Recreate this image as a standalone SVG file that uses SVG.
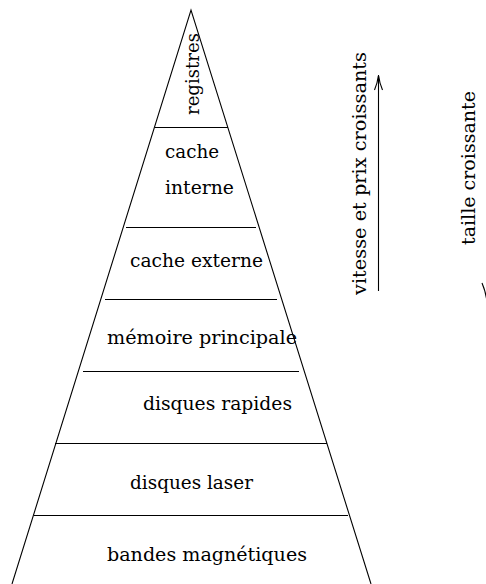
<svg xmlns="http://www.w3.org/2000/svg" width="486" height="584" viewBox="0 0 486 584">
  <style>
    .edge { fill: none; stroke: #000; stroke-width: 1.1; }
    .lbl { font-family: "DejaVu Serif", "Liberation Serif", serif; font-size: 19px; fill: #000; }
  </style>
  <rect width="486" height="584" fill="#fff"/>

  <!-- pyramid outline and level separators -->
  <g id="pyramid">
    <path class="edge" d="M12,584 L191,10 L371,584"/>
    <path class="edge" d="M155,127.5 H228 M126,227.5 H256 M105,299.5 H277 M83,371.5 H299 M55,443.5 H327 M34,515.5 H348"/>
  </g>

  <!-- memory levels -->
  <g id="registres">
    <text class="lbl" transform="translate(199,115) rotate(-90)" textLength="82" lengthAdjust="spacingAndGlyphs">registres</text>
  </g>
  <g id="cache-interne">
    <text class="lbl" x="165" y="158" textLength="54" lengthAdjust="spacingAndGlyphs">cache</text>
    <text class="lbl" x="165" y="194" textLength="69" lengthAdjust="spacingAndGlyphs">interne</text>
  </g>
  <g id="cache-externe">
    <text class="lbl" x="130" y="267" textLength="133" lengthAdjust="spacingAndGlyphs">cache externe</text>
  </g>
  <g id="memoire-principale">
    <text class="lbl" x="107" y="344" textLength="190" lengthAdjust="spacingAndGlyphs">mémoire principale</text>
  </g>
  <g id="disques-rapides">
    <text class="lbl" x="143" y="410" textLength="149" lengthAdjust="spacingAndGlyphs">disques rapides</text>
  </g>
  <g id="disques-laser">
    <text class="lbl" x="130" y="489" textLength="123" lengthAdjust="spacingAndGlyphs">disques laser</text>
  </g>
  <g id="bandes-magnetiques">
    <text class="lbl" x="107" y="561" textLength="200" lengthAdjust="spacingAndGlyphs">bandes magnétiques</text>
  </g>

  <!-- side axes: speed/price upward, size downward (shaft sits on the right border) -->
  <g id="connectors">
    <path class="edge" d="M378.5,291 V75 M374.5,90 Q377.5,83 378.5,75 Q379.5,83 382.5,90"/>
    <path class="edge" d="M486.6,85 V299" stroke-opacity="0.5"/>
    <path class="edge" d="M482,283 Q485.4,291 486.6,299"/>
  </g>
  <g id="vitesse">
    <text class="lbl" transform="translate(366,295) rotate(-90)" textLength="243" lengthAdjust="spacingAndGlyphs">vitesse et prix croissants</text>
  </g>
  <g id="taille">
    <text class="lbl" transform="translate(475,245) rotate(-90)" textLength="154" lengthAdjust="spacingAndGlyphs">taille croissante</text>
  </g>
</svg>
